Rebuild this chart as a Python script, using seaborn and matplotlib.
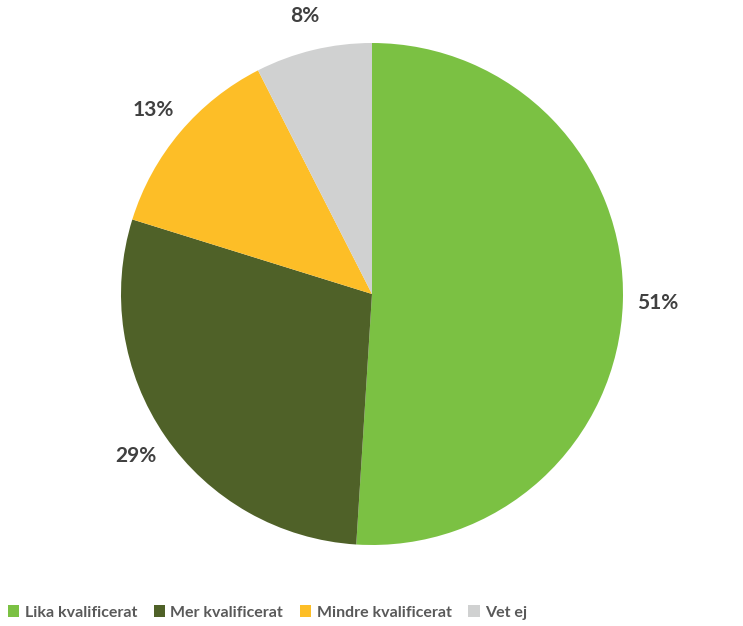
import numpy as np
import seaborn as sns
import matplotlib.pyplot as plt
from matplotlib.patches import Patch

categories = ["Lika kvalificerat", "Mer kvalificerat", "Mindre kvalificerat", "Vet ej"]
values = [51.0, 28.8, 12.7, 7.5]
colors = ["#7BC143", "#4F6128", "#FDBE27", "#D0D1D1"]

sns.set_theme(style="white")
plt.rcParams["font.family"] = ["Lato", "DejaVu Sans"]

fig = plt.figure(figsize=(7.43, 6.26), dpi=100)
ax = fig.add_axes([121 / 743, 81 / 626, 502 / 743, 502 / 626])

wedges, _ = ax.pie(values, colors=colors, startangle=90, counterclock=False,
                   wedgeprops=dict(linewidth=0))
ax.set_aspect("equal")
ax.set_xlim(-1, 1)
ax.set_ylim(-1, 1)

# percentage labels outside the wedges
for w, v in zip(wedges, values):
    mid = np.deg2rad((w.theta1 + w.theta2) / 2)
    ax.text(1.14 * np.cos(mid), 1.14 * np.sin(mid), f"{round(v)}%", ha="center", va="center",
            fontsize=15, fontweight="bold", color="#404040", clip_on=False)

handles = [Patch(facecolor=c, edgecolor="none") for c in colors]
fig.legend(handles, categories, loc="center left", bbox_to_anchor=(0.004, 0.022), ncol=4,
           frameon=False, handlelength=0.7, handleheight=0.8, handletextpad=0.35,
           columnspacing=1.05, borderaxespad=0, borderpad=0.3,
           prop=dict(size=11.5, weight="bold"), labelcolor="#595959")

fig.savefig("out.png", dpi=100)
